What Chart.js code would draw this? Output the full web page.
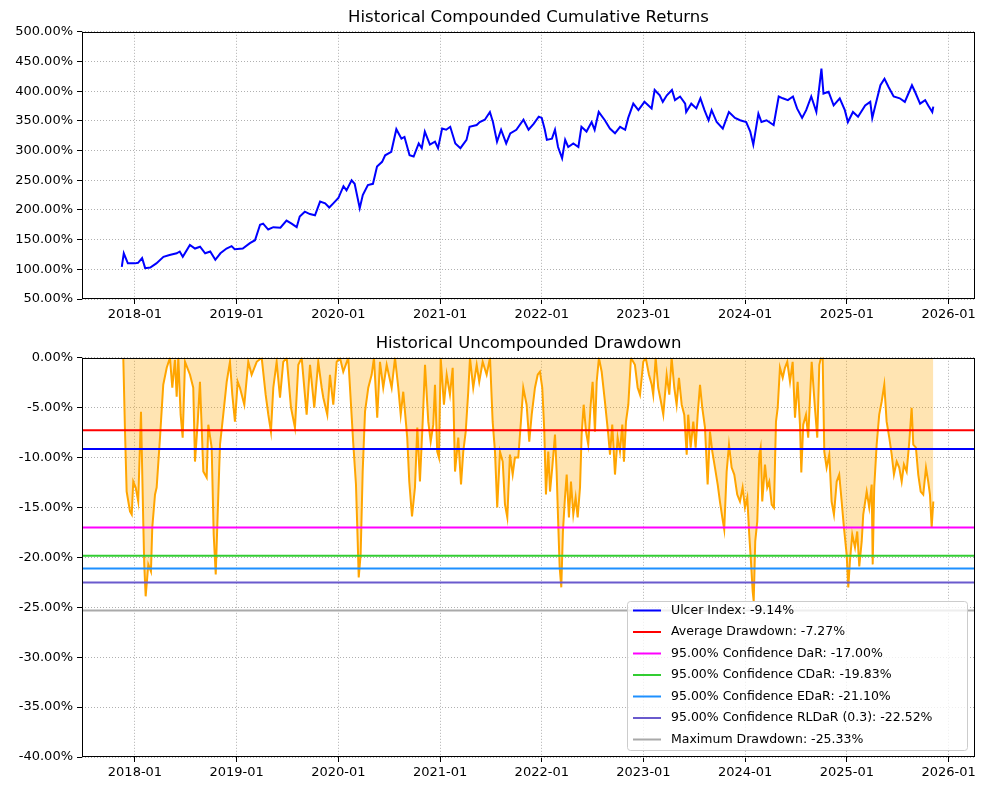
<!DOCTYPE html>
<html lang="en">
<head>
<meta charset="UTF-8">
<title>Historical Returns and Drawdown</title>
<script src="https://cdn.jsdelivr.net/npm/chart.js"></script>
<style>
  body { margin: 0; background: #fff; }
  #wrap { position: relative; width: 994px; height: 792px; }
  canvas { position: absolute; left: 0; }
</style>
</head>
<body>
<div id="wrap">
  <canvas id="cumChart" width="994" height="330" style="top:0"></canvas>
  <canvas id="ddChart" width="994" height="462" style="top:330px"></canvas>
</div>
<script>
// dates are decimal years
const cumYears = [2017.87, 2017.89, 2017.93, 2018.00, 2018.03, 2018.07, 2018.10, 2018.15, 2018.21, 2018.28,
  2018.34, 2018.41, 2018.44, 2018.47, 2018.54, 2018.59, 2018.64, 2018.69, 2018.74, 2018.79,
  2018.84, 2018.90, 2018.95, 2018.98, 2019.06, 2019.13, 2019.18, 2019.23, 2019.26, 2019.31,
  2019.36, 2019.43, 2019.49, 2019.54, 2019.59, 2019.62, 2019.67, 2019.72, 2019.77, 2019.82,
  2019.87, 2019.91, 2019.95, 2020.00, 2020.05, 2020.08, 2020.13, 2020.16, 2020.21, 2020.24,
  2020.29, 2020.34, 2020.38, 2020.43, 2020.46, 2020.52, 2020.57, 2020.62, 2020.65, 2020.70,
  2020.74, 2020.79, 2020.82, 2020.85, 2020.90, 2020.95, 2020.98, 2021.02, 2021.06, 2021.10,
  2021.15, 2021.20, 2021.26, 2021.29, 2021.36, 2021.39, 2021.44, 2021.49, 2021.52, 2021.56,
  2021.60, 2021.65, 2021.69, 2021.75, 2021.82, 2021.87, 2021.92, 2021.97, 2022.00, 2022.03,
  2022.05, 2022.10, 2022.13, 2022.16, 2022.20, 2022.23, 2022.26, 2022.31, 2022.36, 2022.39,
  2022.44, 2022.49, 2022.52, 2022.56, 2022.62, 2022.67, 2022.72, 2022.77, 2022.82, 2022.85,
  2022.90, 2022.95, 2023.01, 2023.08, 2023.11, 2023.16, 2023.19, 2023.23, 2023.28, 2023.31,
  2023.36, 2023.41, 2023.42, 2023.47, 2023.52, 2023.56, 2023.60, 2023.64, 2023.67, 2023.72,
  2023.78, 2023.84, 2023.90, 2023.95, 2024.01, 2024.05, 2024.08, 2024.13, 2024.16, 2024.21,
  2024.28, 2024.33, 2024.37, 2024.42, 2024.47, 2024.51, 2024.56, 2024.60, 2024.65, 2024.70,
  2024.75, 2024.77, 2024.82, 2024.87, 2024.93, 2024.98, 2025.01, 2025.06, 2025.11, 2025.18,
  2025.23, 2025.25, 2025.28, 2025.33, 2025.37, 2025.41, 2025.46, 2025.52, 2025.57, 2025.64,
  2025.67, 2025.72, 2025.77, 2025.80, 2025.84, 2025.85];

// compounded cumulative returns, %
const cumValues = [104, 127, 110, 110, 111, 119, 102, 103, 110, 121,
  124, 127, 130, 121, 141, 135, 138, 127, 130, 116,
  127, 135, 139, 134, 135, 144, 149, 175, 177, 167,
  171, 170, 182, 177, 171, 189, 197, 193, 191, 214,
  211, 204, 211, 220, 240, 233, 250, 244, 203, 225,
  242, 244, 273, 281, 292, 298, 336, 320, 323, 292,
  290, 312, 304, 332, 310, 315, 304, 337, 335, 340,
  312, 304, 318, 340, 343, 348, 352, 365, 348, 315,
  335, 312, 329, 335, 352, 335, 345, 357, 355, 335,
  318, 320, 335, 306, 287, 318, 306, 312, 306, 340,
  332, 348, 335, 365, 351, 337, 329, 340, 335, 355,
  379, 368, 382, 371, 402, 393, 382, 393, 402, 385,
  391, 379, 365, 379, 371, 388, 368, 351, 368, 348,
  337, 365, 355, 351, 348, 332, 310, 362, 348, 351,
  343, 391, 388, 385, 391, 371, 355, 368, 391, 365,
  438, 396, 399, 376, 388, 368, 348, 365, 357, 376,
  382, 355, 376, 410, 421, 407, 391, 388, 382, 410,
  399, 379, 385, 376, 365, 374];

const ddYears = [2017.885, 2017.902, 2017.918, 2017.951, 2017.968, 2017.983, 2018.007, 2018.032, 2018.059, 2018.082,
  2018.091, 2018.105, 2018.131, 2018.157, 2018.170, 2018.197, 2018.213, 2018.246, 2018.278, 2018.312,
  2018.344, 2018.367, 2018.393, 2018.410, 2018.426, 2018.449, 2018.469, 2018.492, 2018.541, 2018.573,
  2018.590, 2018.617, 2018.639, 2018.672, 2018.705, 2018.721, 2018.754, 2018.774, 2018.794, 2018.813,
  2018.836, 2018.868, 2018.902, 2018.934, 2018.957, 2018.983, 2019.010, 2019.032, 2019.075, 2019.114,
  2019.147, 2019.197, 2019.246, 2019.285, 2019.311, 2019.337, 2019.360, 2019.393, 2019.426, 2019.458,
  2019.492, 2019.534, 2019.573, 2019.606, 2019.639, 2019.688, 2019.721, 2019.763, 2019.802, 2019.836,
  2019.852, 2019.891, 2019.917, 2019.950, 2019.983, 2020.016, 2020.048, 2020.097, 2020.147, 2020.173,
  2020.190, 2020.200, 2020.219, 2020.239, 2020.262, 2020.294, 2020.327, 2020.350, 2020.382, 2020.409,
  2020.441, 2020.475, 2020.524, 2020.557, 2020.589, 2020.613, 2020.638, 2020.677, 2020.697, 2020.724,
  2020.753, 2020.776, 2020.802, 2020.829, 2020.852, 2020.884, 2020.908, 2020.933, 2020.950, 2020.972,
  2020.989, 2021.006, 2021.038, 2021.065, 2021.097, 2021.124, 2021.147, 2021.179, 2021.206, 2021.228,
  2021.252, 2021.277, 2021.294, 2021.326, 2021.360, 2021.385, 2021.419, 2021.458, 2021.491, 2021.517,
  2021.540, 2021.562, 2021.589, 2021.616, 2021.638, 2021.661, 2021.687, 2021.714, 2021.736, 2021.769,
  2021.795, 2021.818, 2021.851, 2021.877, 2021.901, 2021.933, 2021.960, 2021.982, 2022.005, 2022.025,
  2022.041, 2022.064, 2022.081, 2022.103, 2022.130, 2022.146, 2022.162, 2022.176, 2022.192, 2022.208,
  2022.228, 2022.245, 2022.267, 2022.287, 2022.310, 2022.333, 2022.353, 2022.376, 2022.392, 2022.412,
  2022.435, 2022.457, 2022.481, 2022.500, 2022.523, 2022.540, 2022.562, 2022.589, 2022.621, 2022.654,
  2022.671, 2022.693, 2022.720, 2022.746, 2022.769, 2022.792, 2022.808, 2022.828, 2022.851, 2022.877,
  2022.916, 2022.943, 2022.966, 2022.998, 2023.022, 2023.054, 2023.081, 2023.096, 2023.120, 2023.145,
  2023.172, 2023.195, 2023.228, 2023.254, 2023.277, 2023.303, 2023.326, 2023.349, 2023.376, 2023.401,
  2023.425, 2023.440, 2023.464, 2023.490, 2023.513, 2023.533, 2023.556, 2023.578, 2023.605, 2023.631,
  2023.654, 2023.677, 2023.703, 2023.730, 2023.752, 2023.775, 2023.794, 2023.818, 2023.841, 2023.867,
  2023.893, 2023.922, 2023.949, 2023.975, 2023.998, 2024.021, 2024.040, 2024.057, 2024.074, 2024.084,
  2024.099, 2024.119, 2024.139, 2024.152, 2024.168, 2024.195, 2024.217, 2024.237, 2024.261, 2024.283,
  2024.303, 2024.320, 2024.342, 2024.369, 2024.391, 2024.414, 2024.441, 2024.467, 2024.490, 2024.516,
  2024.539, 2024.552, 2024.571, 2024.598, 2024.620, 2024.654, 2024.686, 2024.709, 2024.729, 2024.745,
  2024.762, 2024.778, 2024.801, 2024.827, 2024.850, 2024.873, 2024.900, 2024.925, 2024.949, 2024.971,
  2024.998, 2025.014, 2025.030, 2025.053, 2025.080, 2025.102, 2025.122, 2025.146, 2025.161, 2025.195,
  2025.220, 2025.244, 2025.254, 2025.269, 2025.293, 2025.318, 2025.342, 2025.368, 2025.391, 2025.417,
  2025.441, 2025.463, 2025.490, 2025.515, 2025.539, 2025.561, 2025.588, 2025.614, 2025.637, 2025.653,
  2025.679, 2025.702, 2025.726, 2025.751, 2025.778, 2025.800, 2025.817, 2025.834, 2025.850];

// uncompounded drawdown, %
const ddValues = [0, -7.4, -13.4, -15.4, -15.7, -12.4, -13.0, -14.4, -5.4, -16.7,
  -20.7, -23.9, -20.7, -21.4, -17.0, -13.7, -13.0, -8.0, -2.7, -1.0,
  0, -3.0, -0.2, -3.9, 0, -5.7, -8.0, -0.4, -1.7, -3.0,
  -10.4, -6.4, -2.4, -11.4, -12.0, -6.7, -9.0, -17.7, -21.7, -15.7,
  -8.7, -5.7, -2.4, -0.4, -3.7, -6.4, -2.4, -3.0, -4.7, -0.4,
  -1.7, -0.4, 0, -3.7, -5.7, -7.4, -3.0, -0.4, -4.0, -0.4,
  0, -5.0, -7.0, -0.7, 0, -5.7, -0.7, -5.0, -0.4, -3.0,
  -4.0, -5.7, -1.7, -4.7, -0.4, 0, -1.4, 0, -8.7, -12.7,
  -18.4, -22.0, -19.7, -11.4, -5.4, -3.0, -1.7, 0, -6.0, -0.4,
  -3.0, -0.7, -3.0, 0, -3.0, -5.7, -3.4, -8.0, -12.4, -15.9,
  -13.0, -7.0, -12.4, -6.4, -0.7, -6.4, -8.4, -6.7, -2.7, -9.4,
  -10.0, 0, -4.7, -1.7, -3.7, -1.0, -11.4, -8.0, -12.7, -9.4,
  -7.4, -3.4, 0, -3.0, -0.7, -2.4, -0.4, -1.7, 0, -6.4,
  -9.4, -15.0, -9.4, -10.4, -14.7, -16.0, -9.7, -11.7, -10.0, -10.0,
  -6.4, -3.0, -4.7, -8.4, -5.7, -3.0, -1.7, -1.4, -3.0, -7.4,
  -13.7, -9.4, -13.4, -11.0, -7.7, -11.4, -16.7, -21.0, -23.0, -17.4,
  -14.0, -11.7, -16.0, -12.4, -15.7, -14.0, -16.0, -13.0, -7.7, -4.7,
  -7.4, -8.7, -4.7, -2.4, -7.4, -2.4, 0, -1.4, -4.4, -7.7,
  -9.7, -6.7, -11.7, -8.0, -9.4, -6.7, -10.4, -6.4, -4.7, 0,
  -0.7, -3.0, -3.7, -0.4, 0, -1.7, -2.7, -3.7, 0, -3.0,
  -4.4, -5.7, -1.7, -3.7, 0, -3.0, -4.7, -2.0, -4.7, -5.7,
  -9.7, -5.7, -9.0, -6.4, -9.0, -5.7, -2.7, -5.0, -7.0, -12.7,
  -7.4, -9.4, -11.0, -12.7, -14.4, -16.0, -17.2, -11.4, -8.7, -11.0,
  -11.7, -13.7, -14.4, -13.0, -15.0, -14.0, -17.7, -20.4, -23.4, -24.4,
  -18.4, -16.4, -9.7, -9.0, -14.4, -10.7, -13.0, -12.4, -14.7, -15.0,
  -6.4, -5.0, -1.0, -2.0, -1.0, -0.4, -2.4, -0.4, -6.0, -2.4,
  -6.7, -11.5, -6.7, -5.7, -8.0, -0.4, -5.0, -8.0, -0.7, 0,
  0, -9.4, -11.0, -9.7, -14.4, -15.7, -12.4, -11.7, -14.4, -17.0,
  -19.7, -23.0, -20.4, -17.7, -19.0, -17.4, -20.9, -18.4, -15.7, -13.4,
  -15.0, -12.7, -20.7, -13.0, -8.7, -5.7, -4.4, -2.7, -6.4, -8.0,
  -9.7, -11.7, -10.4, -11.0, -12.4, -10.7, -11.4, -8.4, -5.0, -8.7,
  -9.0, -11.7, -13.4, -13.7, -11.0, -12.4, -13.7, -17.0, -14.4];

const riskNames = ['Ulcer Index', 'Average Drawdown', '95.00% Confidence DaR', '95.00% Confidence CDaR',
  '95.00% Confidence EDaR', '95.00% Confidence RLDaR (0.3)', 'Maximum Drawdown'];
const riskValues = [-9.14, -7.27, -17.00, -19.83, -21.10, -22.52, -25.33];
const riskColors = ['#0000ff', '#ff0000', '#ff00ff', '#32cd32', '#1e90ff', '#6a5acd', '#a9a9a9'];

const yearTicks = [2018, 2019, 2020, 2021, 2022, 2023, 2024, 2025, 2026];
const xMin = 2017.479, xMax = 2026.26;

const FONT = 'DejaVu Sans';
const tickFont = { family: FONT, size: 13 };

const framePlugin = {
  id: 'frame',
  afterDatasetsDraw(chart) {
    const { ctx, chartArea: a } = chart;
    ctx.save();
    ctx.strokeStyle = '#000';
    ctx.lineWidth = 1;
    ctx.strokeRect(Math.round(a.left) + 0.5, Math.round(a.top) + 0.5,
      Math.round(a.width) - 1, Math.round(a.height) - 1);
    ctx.restore();
  }
};

const legendBox = {
  id: 'legendBox',
  afterDraw(chart) {
    const { ctx, chartArea: a } = chart;
    const items = chart.data.datasets.filter(d => d.inLegend);
    const w = 340, h = 149, rowH = 21.5;
    const x = a.right - 8 - w, y = a.bottom - 7 - h;
    ctx.save();
    ctx.beginPath();
    ctx.roundRect(x + 0.5, y + 0.5, w, h, 3);
    ctx.fillStyle = 'rgba(255,255,255,0.8)';
    ctx.fill();
    ctx.strokeStyle = '#cccccc';
    ctx.lineWidth = 1;
    ctx.stroke();
    ctx.font = '12.5px "' + FONT + '"';
    ctx.textBaseline = 'middle';
    items.forEach((d, i) => {
      const cy = y + 9.5 + rowH * i;
      ctx.beginPath();
      ctx.moveTo(x + 6, cy);
      ctx.lineTo(x + 34, cy);
      ctx.strokeStyle = d.borderColor;
      ctx.lineWidth = 2;
      ctx.stroke();
      ctx.fillStyle = '#000';
      ctx.fillText(d.label, x + 44, cy);
    });
    ctx.restore();
  }
};

function xAxis(height) {
  return {
    type: 'linear',
    min: xMin,
    max: xMax,
    afterBuildTicks: s => { s.ticks = yearTicks.map(v => ({ value: v })); },
    afterFit: s => { s.height = height; },
    ticks: { callback: v => v + '-01', font: tickFont, color: '#000', padding: 3, maxRotation: 0, autoSkip: false },
    grid: { color: '#b0b0b0', lineWidth: 1, tickColor: '#000', tickLength: 5, tickWidth: 1 },
    border: { display: false, dash: [1, 2] }
  };
}

function yAxis(min, max, step) {
  return {
    min, max,
    afterFit: s => { s.width = 82; },
    ticks: { stepSize: step, callback: v => v.toFixed(2) + '%', font: tickFont, color: '#000', padding: 4 },
    grid: { color: '#b0b0b0', lineWidth: 1, tickColor: '#000', tickLength: 5, tickWidth: 1 },
    border: { display: false, dash: [1, 2] }
  };
}

// fullSize false keeps the title centred over the plot area, as in the original
function titleOpts(text, top, bottom) {
  return {
    display: true, text, color: '#000', fullSize: false,
    font: { family: FONT, size: 16.5, weight: 'normal' },
    padding: { top, bottom }
  };
}

new Chart(document.getElementById('cumChart'), {
  type: 'line',
  data: {
    datasets: [{
      data: cumYears.map((x, i) => ({ x, y: cumValues[i] })),
      borderColor: '#0000ff',
      borderWidth: 2,
      pointRadius: 0,
      tension: 0
    }]
  },
  options: {
    responsive: false,
    animation: false,
    layout: { padding: { left: 0, right: 19, top: 0, bottom: 0 } },
    plugins: {
      legend: { display: false },
      tooltip: { enabled: false },
      title: titleOpts('Historical Compounded Cumulative Returns', 8, 4)
    },
    scales: { x: xAxis(31), y: yAxis(50, 500, 50) }
  },
  plugins: [framePlugin]
});

const riskSets = riskNames.map((name, i) => ({
  label: name + ': ' + riskValues[i].toFixed(2) + '%',
  inLegend: true,
  data: [{ x: xMin, y: riskValues[i] }, { x: xMax, y: riskValues[i] }],
  borderColor: riskColors[i],
  borderWidth: 2,
  pointRadius: 0,
  order: 0
}));

new Chart(document.getElementById('ddChart'), {
  type: 'line',
  data: {
    datasets: riskSets.concat([{
      label: 'Drawdown',
      data: ddYears.map((x, i) => ({ x, y: ddValues[i] })),
      borderColor: '#ffa500',
      backgroundColor: 'rgba(255,165,0,0.3)',
      fill: 'origin',
      borderWidth: 2,
      pointRadius: 0,
      tension: 0,
      order: 10
    }])
  },
  options: {
    responsive: false,
    animation: false,
    layout: { padding: { left: 0, right: 19, top: 0, bottom: 0 } },
    plugins: {
      legend: { display: false },
      tooltip: { enabled: false },
      title: titleOpts('Historical Uncompounded Drawdown', 4, 4)
    },
    scales: { x: xAxis(35), y: yAxis(-40, 0, 5) }
  },
  plugins: [framePlugin, legendBox]
});
</script>
</body>
</html>
